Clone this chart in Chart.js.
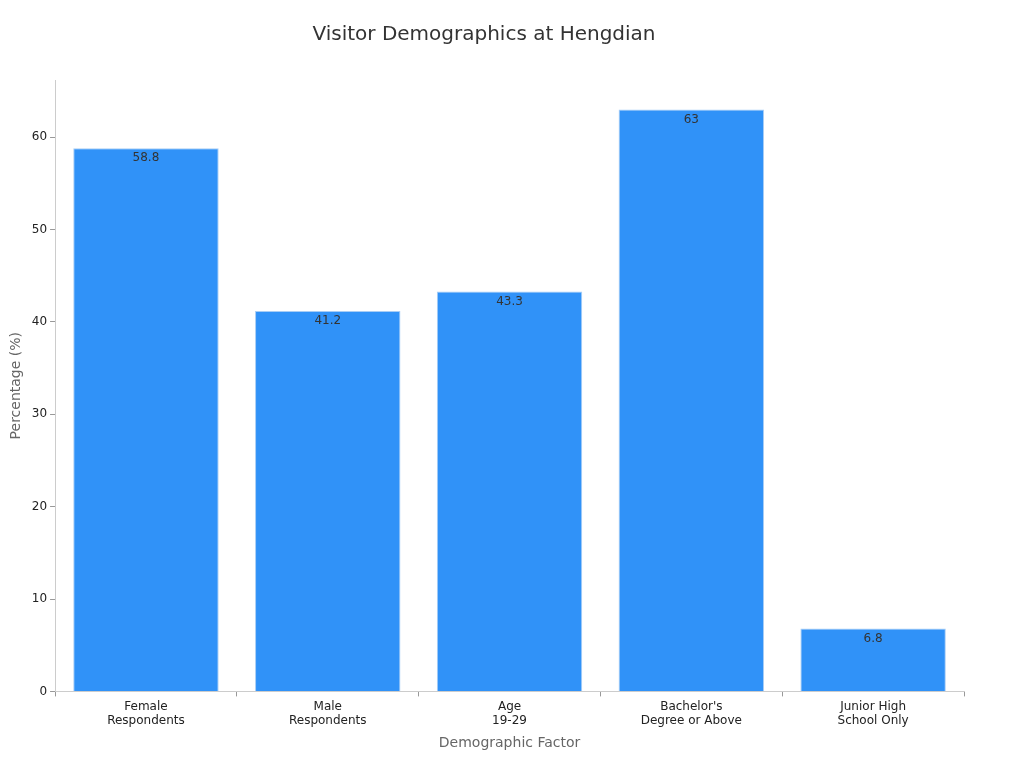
<!DOCTYPE html>
<html><head><meta charset="utf-8">
<script src="https://cdn.jsdelivr.net/npm/chart.js@4"></script>
<style>html,body{margin:0;padding:0;background:#fff}#w{width:1024px;height:768px}</style>
</head><body><div id="w"><canvas id="c"></canvas></div>
<script>
const categories = [["Female","Respondents"],["Male","Respondents"],["Age","19-29"],["Bachelor's","Degree or Above"],["Junior High","School Only"]];
const values = [58.8, 41.2, 43.3, 63, 6.8];
const yTicks = [0,10,20,30,40,50,60];
const labelPlugin = {
  id:'lbl',
  afterDatasetsDraw(chart){
    const ctx=chart.ctx, meta=chart.getDatasetMeta(0);
    ctx.save();
    ctx.font='12px "DejaVu Sans"';ctx.fillStyle='#333';ctx.textAlign='center';ctx.textBaseline='top';
    meta.data.forEach((b,i)=>ctx.fillText(String(values[i]),b.x,b.y+4));
    ctx.restore();
  }
};
new Chart(document.getElementById('c'),{
  type:'bar',
  data:{labels:categories,datasets:[{data:values,backgroundColor:'#3092f8',borderColor:'#a8cdf5',borderWidth:1,categoryPercentage:0.8,barPercentage:1}]},
  options:{
    responsive:true,maintainAspectRatio:false,animation:false,
    layout:{padding:{left:4,right:60,top:10,bottom:12}},
    plugins:{legend:{display:false},tooltip:{enabled:false},
      title:{display:true,text:'Visitor Demographics at Hengdian',color:'#333',font:{family:'DejaVu Sans',size:20,weight:'normal'},padding:{top:13,bottom:33}}},
    scales:{
      x:{grid:{display:true,drawOnChartArea:false,drawTicks:true,tickLength:5,color:'#999'},border:{color:'#ccc'},
        ticks:{color:'#222',font:{family:'DejaVu Sans',size:12},maxRotation:0},
        title:{display:true,text:'Demographic Factor',color:'#666',font:{family:'DejaVu Sans',size:14}}},
      y:{min:0,max:66.2,grid:{display:true,drawOnChartArea:false,drawTicks:true,tickLength:5,color:'#999'},border:{color:'#ccc'},
        afterBuildTicks(s){s.ticks=yTicks.map(v=>({value:v}));},
        ticks:{color:'#222',font:{family:'DejaVu Sans',size:12}},
        title:{display:true,text:'Percentage (%)',color:'#666',font:{family:'DejaVu Sans',size:14}}}
    }
  },
  plugins:[labelPlugin]
});
</script></body></html>
